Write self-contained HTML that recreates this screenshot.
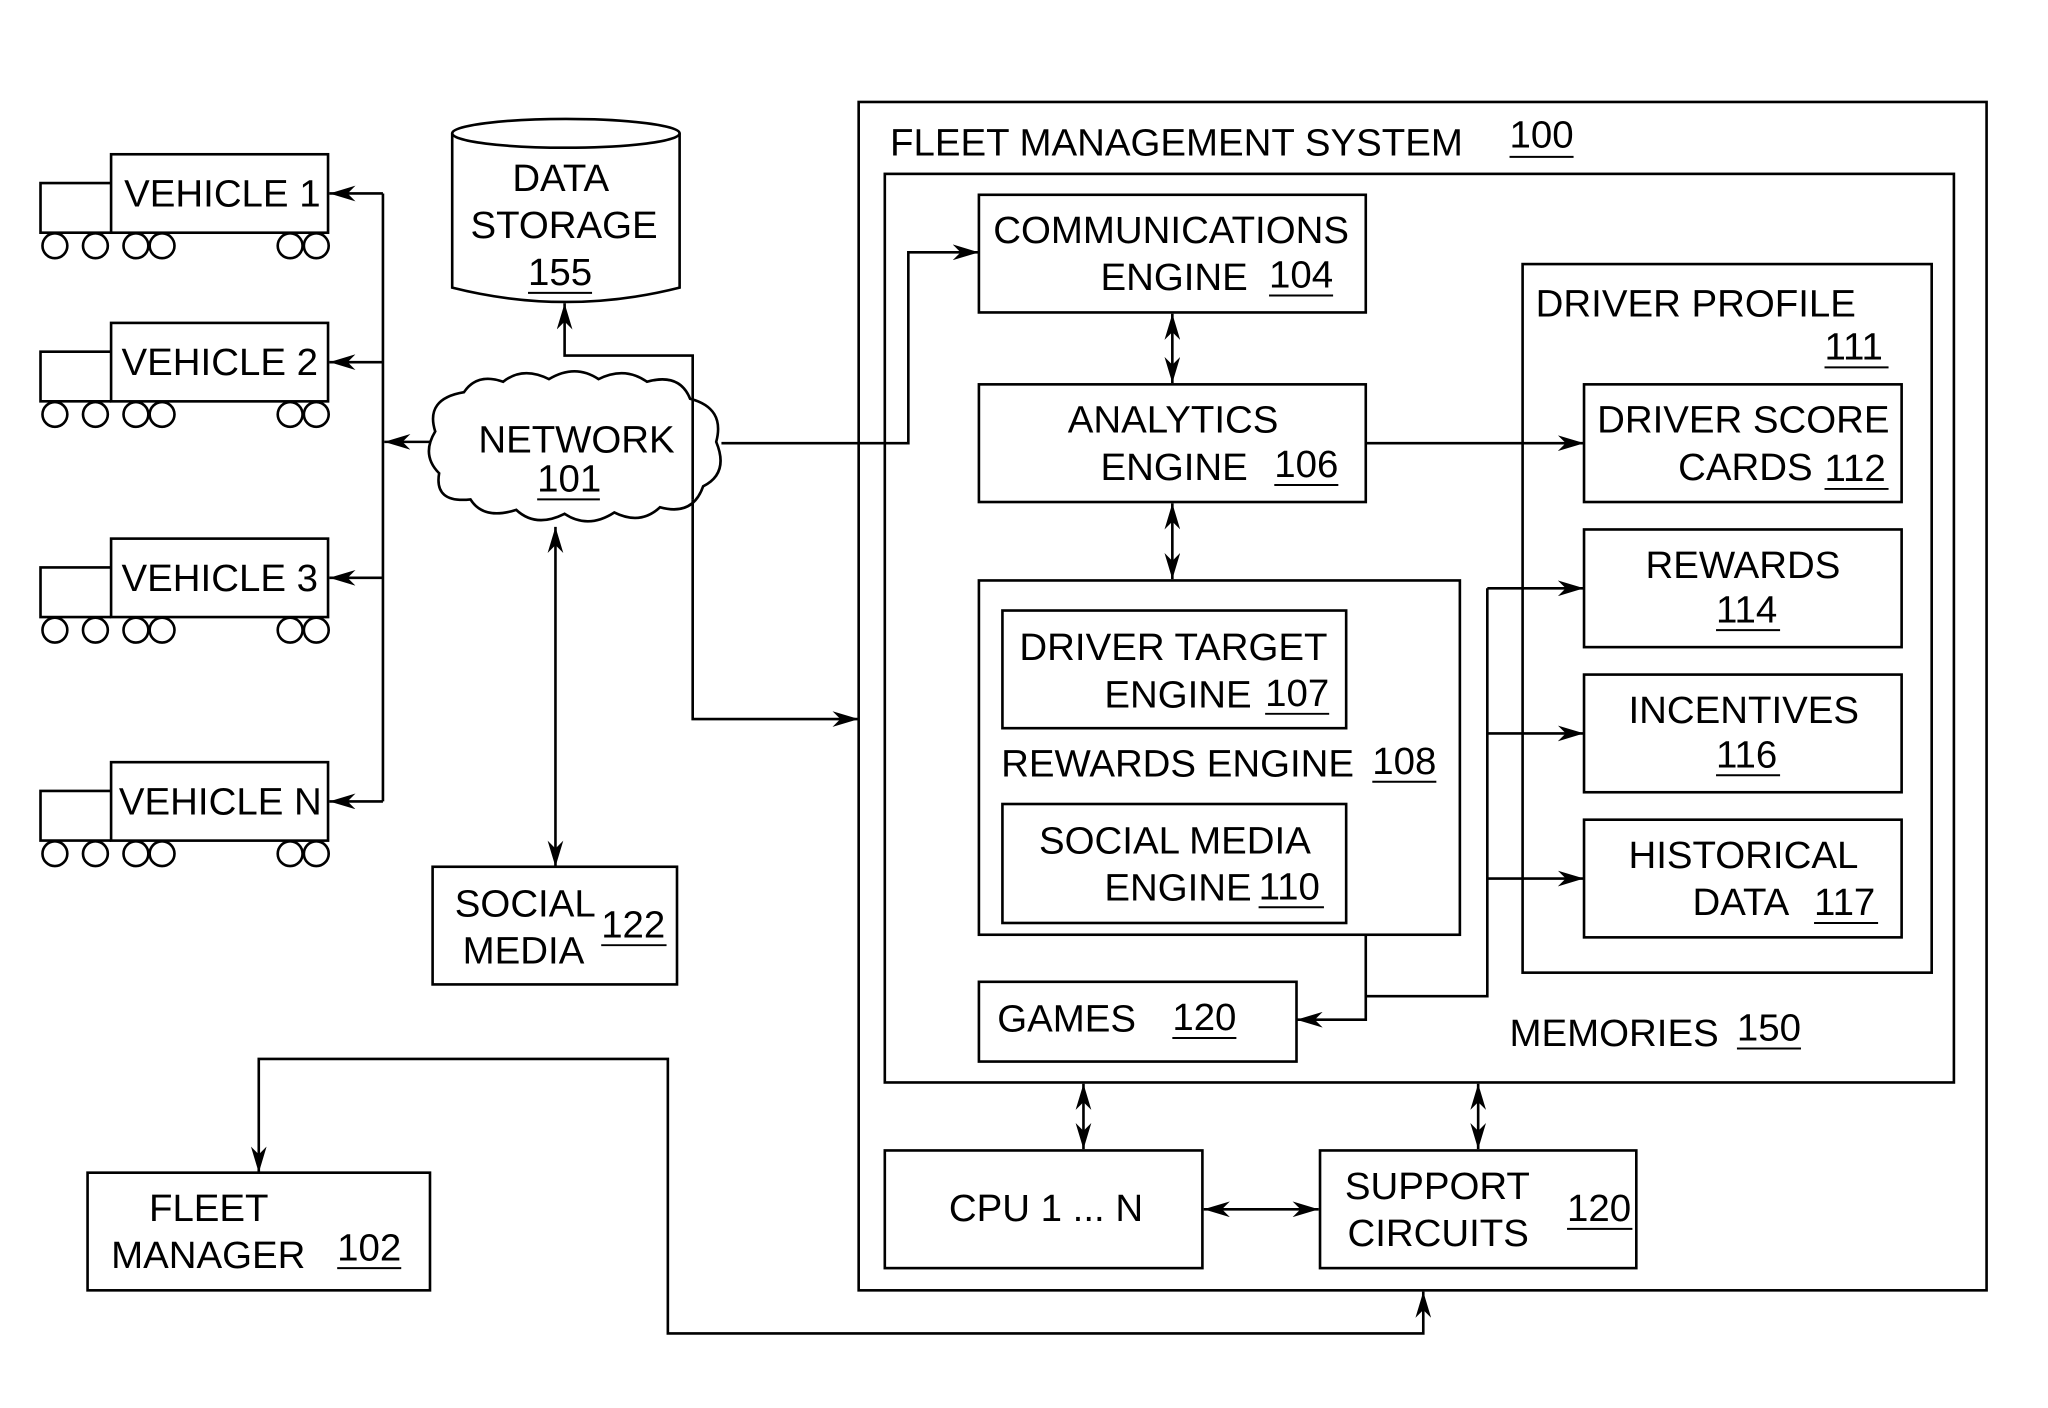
<!DOCTYPE html>
<html><head><meta charset="utf-8"><style>
html,body{margin:0;padding:0;background:#fff;}
svg{display:block;}
text{font-family:"Liberation Sans",Arial,sans-serif;font-size:29.4px;fill:#000;}
</style></head><body>
<svg width="2048" height="1408" viewBox="0 0 1567 1077" preserveAspectRatio="none" xmlns="http://www.w3.org/2000/svg">
<defs>
<marker id="a" viewBox="0 0 20 12" refX="20" refY="6" markerWidth="20" markerHeight="12" markerUnits="userSpaceOnUse" orient="auto-start-reverse">
<path d="M0,0 L20,6 L0,12 L6,6 Z" fill="#000"/>
</marker>
</defs>
<g fill="none" stroke="#000" stroke-width="2">
<rect x="657" y="78" width="863" height="909"/>
<rect x="677" y="133" width="818" height="695"/>
<rect x="749" y="149" width="296" height="90"/>
<rect x="749" y="294" width="296" height="90"/>
<rect x="749" y="444" width="368" height="271"/>
<rect x="767" y="467" width="263" height="90"/>
<rect x="767" y="615" width="263" height="91"/>
<rect x="749" y="751" width="243" height="61"/>
<rect x="1165" y="202" width="313" height="542"/>
<rect x="1212" y="294" width="243" height="90"/>
<rect x="1212" y="405" width="243" height="90"/>
<rect x="1212" y="516" width="243" height="90"/>
<rect x="1212" y="627" width="243" height="90"/>
<rect x="677" y="880" width="243" height="90"/>
<rect x="1010" y="880" width="242" height="90"/>
<rect x="67" y="897" width="262" height="90"/>
<rect x="331" y="663" width="187" height="90"/>
<path d="M346,102 L346,220 Q433,242 520,220 L520,102"/>
<ellipse cx="433" cy="102" rx="87" ry="11"/>
<path d="M333,330 Q325,305 355,300 Q365,285 385,292 Q400,280 420,290 Q440,278 458,290 Q478,280 495,292 Q520,285 528,305 Q555,312 548,338 Q558,362 538,372 Q530,395 505,388 Q490,402 470,392 Q450,405 432,393 Q410,404 395,390 Q370,398 360,382 Q332,385 336,362 Q322,348 333,330 Z"/>
<g id="v">
<rect x="85" y="118" width="166" height="60"/>
<path d="M85,140 L31,140 L31,178 L85,178"/>
<circle cx="42" cy="188" r="9.5"/><circle cx="73" cy="188" r="9.5"/><circle cx="104" cy="188" r="9.5"/><circle cx="124" cy="188" r="9.5"/>
<circle cx="222" cy="188" r="9.5"/><circle cx="242" cy="188" r="9.5"/>
</g>
<use href="#v" y="129"/>
<use href="#v" y="294"/>
<use href="#v" y="465"/>
<path d="M293,148 L293,613"/>
<path d="M293,148 L252,148" marker-end="url(#a)"/>
<path d="M293,277 L252,277" marker-end="url(#a)"/>
<path d="M293,442 L252,442" marker-end="url(#a)"/>
<path d="M293,613 L252,613" marker-end="url(#a)"/>
<path d="M330,338 L294,338" marker-end="url(#a)"/>
<path d="M552,339 L695,339 L695,193 L749,193" marker-end="url(#a)"/>
<path d="M530,382 L530,272 L432,272 L432,232" marker-end="url(#a)"/>
<path d="M530,382 L530,550 L657,550" marker-end="url(#a)"/>
<path d="M425,403 L425,663" marker-start="url(#a)" marker-end="url(#a)"/>
<path d="M897,240 L897,293" marker-start="url(#a)" marker-end="url(#a)"/>
<path d="M897,385 L897,443" marker-start="url(#a)" marker-end="url(#a)"/>
<path d="M1045,339 L1212,339" marker-end="url(#a)"/>
<path d="M1045,715 L1045,780 L992,780" marker-end="url(#a)"/>
<path d="M1045,762 L1138,762 L1138,450"/>
<path d="M1138,450 L1212,450" marker-end="url(#a)"/>
<path d="M1138,561 L1212,561" marker-end="url(#a)"/>
<path d="M1138,672 L1212,672" marker-end="url(#a)"/>
<path d="M829,829 L829,879" marker-start="url(#a)" marker-end="url(#a)"/>
<path d="M1131,829 L1131,879" marker-start="url(#a)" marker-end="url(#a)"/>
<path d="M921,925 L1009,925" marker-start="url(#a)" marker-end="url(#a)"/>
<path d="M198,897 L198,810 L511,810 L511,1020 L1089,1020 L1089,988" marker-start="url(#a)" marker-end="url(#a)"/>
<g stroke-width="1.5">
<path d="M1155,120 L1204,120"/><path d="M971,226 L1020,226"/><path d="M1396,281 L1445,281"/>
<path d="M975,371 L1024,371"/><path d="M1396,374 L1445,374"/><path d="M1313,482 L1362,482"/>
<path d="M968,546 L1017,546"/><path d="M1050,598 L1099,598"/><path d="M1313,593 L1362,593"/>
<path d="M963,694 L1013,694"/><path d="M1388,706 L1437,706"/><path d="M897,794 L946,794"/>
<path d="M1329,802 L1378,802"/><path d="M1199,940 L1249,940"/><path d="M258,970 L307,970"/>
<path d="M460,723 L510,723"/><path d="M404,224 L453,224"/><path d="M411,382 L459,382"/>
</g>
</g>
<text x="681" y="119">FLEET MANAGEMENT SYSTEM</text><text x="1155" y="113">100</text>
<text x="760" y="186">COMMUNICATIONS</text><text x="842" y="222">ENGINE</text><text x="971" y="220">104</text>
<text x="1175" y="242">DRIVER PROFILE</text><text x="1396" y="275">111</text>
<text x="817" y="331">ANALYTICS</text><text x="842" y="367">ENGINE</text><text x="975" y="365">106</text>
<text x="1222" y="331">DRIVER SCORE</text><text x="1284" y="367">CARDS</text><text x="1396" y="368">112</text>
<text x="1259" y="442">REWARDS</text><text x="1313" y="476">114</text>
<text x="780" y="505">DRIVER TARGET</text><text x="845" y="541">ENGINE</text><text x="968" y="540">107</text>
<text x="1246" y="553">INCENTIVES</text><text x="1313" y="587">116</text>
<text x="766" y="594">REWARDS ENGINE</text><text x="1050" y="592">108</text>
<text x="795" y="653">SOCIAL MEDIA</text><text x="845" y="689">ENGINE</text><text x="963" y="688">110</text>
<text x="1246" y="664">HISTORICAL</text><text x="1295" y="700">DATA</text><text x="1388" y="700">117</text>
<text x="763" y="789">GAMES</text><text x="897" y="788">120</text>
<text x="1155" y="800">MEMORIES</text><text x="1329" y="796">150</text>
<text x="726" y="934">CPU 1 ... N</text>
<text x="1029" y="917">SUPPORT</text><text x="1031" y="953">CIRCUITS</text><text x="1199" y="934">120</text>
<text x="114" y="934">FLEET</text><text x="85" y="970">MANAGER</text><text x="258" y="964">102</text>
<text x="348" y="701">SOCIAL</text><text x="354" y="737">MEDIA</text><text x="460" y="717">122</text>
<text x="392" y="146">DATA</text><text x="360" y="182">STORAGE</text><text x="404" y="218">155</text>
<text x="366" y="346">NETWORK</text><text x="411" y="376">101</text>
<text x="95" y="158">VEHICLE 1</text>
<text x="93" y="287">VEHICLE 2</text>
<text x="93" y="452">VEHICLE 3</text>
<text x="91" y="623">VEHICLE N</text>
</svg>
</body></html>
